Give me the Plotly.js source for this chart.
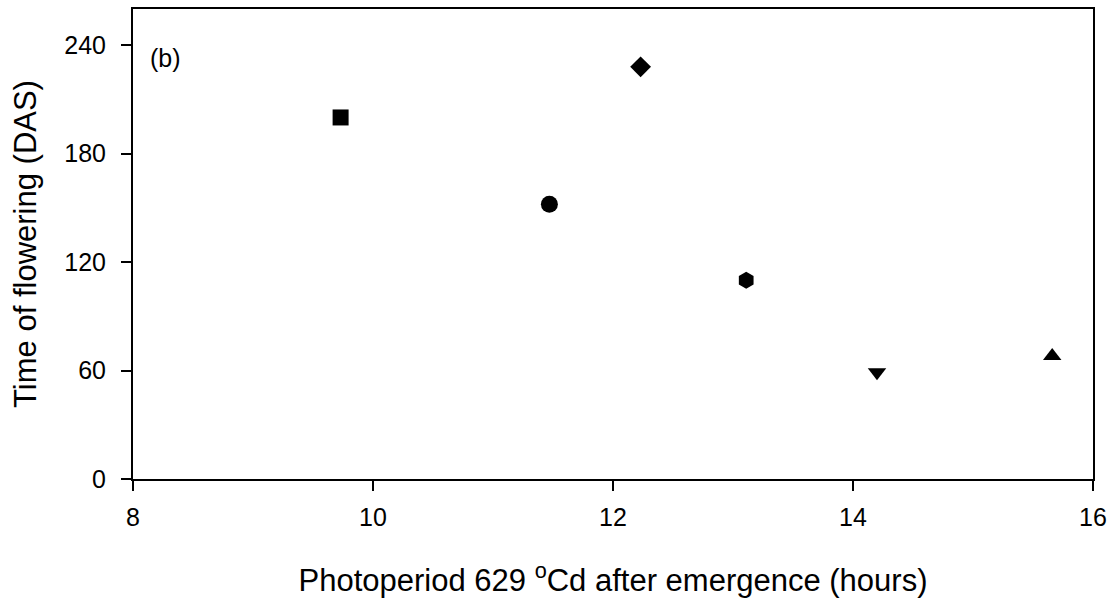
<!DOCTYPE html>
<html>
<head>
<meta charset="utf-8">
<script src="https://cdn.plot.ly/plotly-3.0.1.min.js"></script>
<style>html,body{margin:0;padding:0;background:#fff;}#chart{width:1117px;height:598px;}</style>
</head>
<body>
<div id="chart"></div>
<script>
// Data
const photoperiod = [9.73, 11.47, 12.23, 13.11, 14.20, 15.66];
const floweringDAS = [200, 152, 228, 110, 59, 68];
const markerSymbols = ['square', 'circle', 'diamond', 'hexagon', 'triangle-down', 'triangle-up'];
const markerSizes = [16, 17, 16, 17, 16, 16];
const xTickVals = [8, 10, 12, 14, 16];
const yTickVals = [0, 60, 120, 180, 240];
const panelLabel = '(b)';
const xTitle = 'Photoperiod 629 <sup>o</sup>Cd after emergence (hours)';
const yTitle = 'Time of flowering (DAS)';

const font = 'Liberation Sans, Arial, sans-serif';

const trace = {
  x: photoperiod,
  y: floweringDAS,
  mode: 'markers',
  type: 'scatter',
  marker: { symbol: markerSymbols, size: markerSizes, color: 'rgb(0,0,0)', opacity: 1, line: { width: 0 } },
  hoverinfo: 'x+y',
  showlegend: false
};

const layout = {
  width: 1117,
  height: 598,
  margin: { l: 133, r: 24, t: 9, b: 119 },
  paper_bgcolor: '#fff',
  plot_bgcolor: '#fff',
  font: { family: font, color: '#000', size: 25 },
  xaxis: {
    range: [8, 16],
    tickvals: xTickVals,
    ticks: 'outside',
    ticklen: 10,
    tickwidth: 2,
    tickcolor: '#000',
    ticklabelstandoff: 5,
    showline: true,
    linewidth: 2,
    linecolor: '#000',
    mirror: true,
    showgrid: false,
    zeroline: false,
    tickfont: { family: font, size: 25 },
    title: { text: xTitle, font: { family: font, size: 31 }, standoff: 40 }
  },
  yaxis: {
    range: [0, 260],
    tickvals: yTickVals,
    ticks: 'outside',
    ticklen: 10,
    tickwidth: 2,
    tickcolor: '#000',
    ticklabelstandoff: 10,
    showline: true,
    linewidth: 2,
    linecolor: '#000',
    mirror: true,
    showgrid: false,
    zeroline: false,
    tickfont: { family: font, size: 25 },
    title: { text: yTitle, font: { family: font, size: 31 }, standoff: 18 }
  },
  annotations: [{
    text: panelLabel,
    xref: 'paper', yref: 'paper',
    x: 0.0156, y: 0.896,
    xanchor: 'left', yanchor: 'middle',
    showarrow: false,
    font: { family: font, size: 25, color: '#000' }
  }]
};

Plotly.newPlot('chart', [trace], layout, { displayModeBar: false, staticPlot: true });
</script>
</body>
</html>
